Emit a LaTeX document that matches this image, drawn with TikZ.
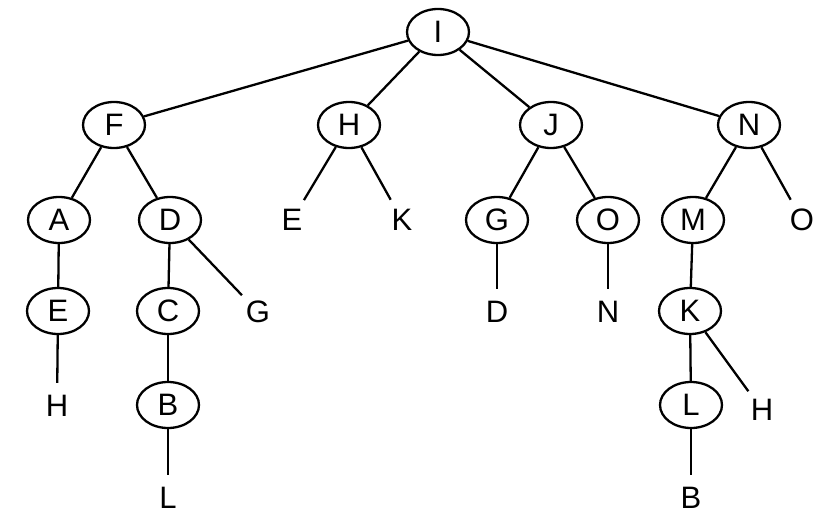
\documentclass[tikz,border=0pt]{standalone}
\usepackage{fontspec}
\setmainfont{Liberation Sans}
\usetikzlibrary{shapes.geometric}
\begin{document}
\begin{tikzpicture}[x=1pt,y=-1pt,
  every node/.style={font=\fontsize{31}{31}\selectfont},
  ell/.style={ellipse,draw,line width=2.3pt,minimum width=62pt,minimum height=46pt,inner sep=0pt},
  lbl/.style={circle,minimum size=46pt,inner sep=0pt},
  edge/.style={line width=2.3pt}]
\useasboundingbox (0,0) rectangle (828,514);
% level 0
\node[ell] (I) at (438,32) {I};
% level 1
\node[ell] (F) at (114,125) {F};
\node[ell] (H) at (349,125) {H};
\node[ell] (J) at (551,125) {J};
\node[ell] (N) at (749,125) {N};
% level 2
\node[ell] (A) at (59,220) {A};
\node[ell] (D) at (170,220) {D};
\node[lbl] (E2) at (292,220) {E};
\node[lbl] (K2) at (402,220) {K};
\node[ell] (G) at (497,220) {G};
\node[ell] (O) at (608,220) {O};
\node[ell] (M) at (693,220) {M};
\node[lbl] (O2) at (802,220) {O};
% level 3
\node[ell] (E) at (58,311) {E};
\node[ell] (C) at (168,311) {C};
\node[lbl] (G3) at (258,312) {G};
\node[lbl] (D3) at (497,312) {D};
\node[lbl] (N3) at (608,312) {N};
\node[ell] (K) at (690,311) {K};
% level 4
\node[lbl] (H4) at (57,406) {H};
\node[ell] (B) at (168,405) {B};
\node[ell] (L) at (691,405) {L};
\node[lbl] (H5) at (762,410) {H};
% level 5
\node[lbl] (L5) at (168,498) {L};
\node[lbl] (B5) at (691,498) {B};
% edges
\draw[edge] (I) -- (F);
\draw[edge] (I) -- (H);
\draw[edge] (I) -- (J);
\draw[edge] (I) -- (N);
\draw[edge] (F) -- (A);
\draw[edge] (F) -- (D);
\draw[edge] (H) -- (E2);
\draw[edge] (H) -- (K2);
\draw[edge] (J) -- (G);
\draw[edge] (J) -- (O);
\draw[edge] (N) -- (M);
\draw[edge] (N) -- (O2);
\draw[edge] (A) -- (E);
\draw[edge] (D) -- (C);
\draw[edge] (D) -- (G3);
\draw[edge] (G) -- (D3);
\draw[edge] (O) -- (N3);
\draw[edge] (M) -- (K);
\draw[edge] (E) -- (H4);
\draw[edge] (C) -- (B);
\draw[edge] (K) -- (L);
\draw[edge] (K) -- (H5);
\draw[edge] (B) -- (L5);
\draw[edge] (L) -- (B5);
\end{tikzpicture}
\end{document}
